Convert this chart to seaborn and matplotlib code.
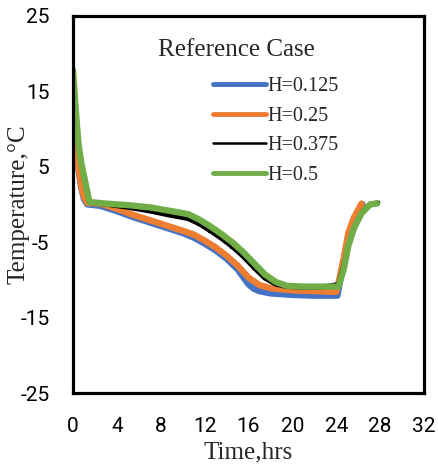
import numpy as np
import pandas as pd
import matplotlib
matplotlib.use("Agg")
import matplotlib.pyplot as plt
from matplotlib.lines import Line2D
import seaborn as sns

# Temperature histories (deg C) against time (hours) for each H value
t_0125 = [0, 0.25, 0.5, 0.75, 1.0, 1.3, 2.5, 4, 5.5, 7, 8.5, 10, 11, 12, 13, 14, 15, 15.5, 16, 16.5,
          17, 18, 20, 22, 24.1, 24.4, 24.8, 25.2, 25.7, 26.4]
T_0125 = [14.3, 9.6, 4.6, 2.2, 0.7, 0.0, -0.2, -0.9, -1.7, -2.4, -3.1, -3.8, -4.4, -5.2, -6.1, -7.2, -8.6,
          -9.6, -10.6, -11.2, -11.5, -11.8, -12.0, -12.1, -12.1, -9.8, -6.8, -3.8, -1.7, 0.0]

t_025 = [0, 0.25, 0.5, 0.75, 1.0, 1.3, 2.5, 4, 5.5, 7, 8.5, 10, 11, 12, 13, 14, 15, 16, 17, 18,
         20, 22, 24.0, 24.3, 24.7, 25.1, 25.6, 26.3]
T_025 = [14.8, 10.0, 5.0, 2.5, 1.0, 0.2, 0.1, -0.6, -1.4, -2.1, -2.8, -3.5, -4.0, -4.8, -5.7, -6.8, -8.1,
         -9.7, -10.7, -11.1, -11.4, -11.5, -11.6, -9.8, -7.0, -3.8, -1.8, 0.1]

t_0375 = [0, 0.25, 0.5, 0.75, 1.0, 1.25, 1.5, 3, 5, 7, 9, 10.5, 11.5, 12.5, 13.5, 14.5, 15.5, 16.5,
          17.5, 18.5, 19.5, 21, 22.5, 24.2, 24.7, 25.2, 25.7, 26.4, 27.2, 27.8]
T_0375 = [16.5, 12.0, 7.8, 5.3, 3.6, 1.9, 0.3, 0.0, -0.4, -0.9, -1.5, -1.9, -2.6, -3.5, -4.5, -5.6, -6.9,
          -8.4, -9.8, -10.6, -10.9, -11.0, -11.0, -10.6, -8.0, -5.0, -2.8, -0.9, 0.1, 0.2]

t_05 = [0, 0.25, 0.5, 0.75, 1.0, 1.25, 1.5, 3, 5, 7, 9, 10.5, 11.5, 12.5, 13.5, 14.5, 15.5, 16.5,
        17.5, 18.5, 19.5, 21, 22.5, 24.2, 24.7, 25.1, 25.6, 26.3, 27.1, 27.7]
T_05 = [17.8, 12.5, 8.0, 5.5, 3.8, 2.0, 0.3, 0.1, -0.1, -0.4, -0.9, -1.3, -2.0, -2.9, -3.9, -5.0, -6.3,
        -7.8, -9.3, -10.3, -10.8, -10.9, -10.9, -10.9, -8.5, -5.5, -3.2, -1.2, 0.0, 0.1]

labels = ["H=0.125", "H=0.25", "H=0.375", "H=0.5"]
colors = ["#4472C4", "#ED7D31", "#000000", "#70AD47"]
widths = [4.6, 4.6, 3.4, 4.6]
legend_widths = [3.5, 3.5, 1.8, 3.5]

x_ticks = [0, 4, 8, 12, 16, 20, 24, 28, 32]
y_ticks = [-25, -20, -15, -10, -5, 0, 5, 10, 15, 20, 25]
y_ticklabels = ["-25", "", "-15", "", "-5", "", "5", "", "15", "", "25"]

frames = []
for lab, t, T in zip(labels, [t_0125, t_025, t_0375, t_05], [T_0125, T_025, T_0375, T_05]):
    frames.append(pd.DataFrame({"time": t, "temp": T, "case": lab}))
df = pd.concat(frames, ignore_index=True)

sns.set_style("white")
plt.rcParams["font.family"] = ["Liberation Serif", "DejaVu Serif"]

fig = plt.figure(figsize=(4.38, 4.69), dpi=100)
ax = fig.add_axes([73 / 438, 1 - 393 / 469, (424 - 73) / 438, (393 - 15.7) / 469])

for lab, col, lw in zip(labels, colors, widths):
    sub = df[df["case"] == lab]
    sns.lineplot(data=sub, x="time", y="temp", color=col, linewidth=lw,
                 estimator=None, sort=False, ax=ax, legend=False,
                 marker="s", markersize=3.5, markeredgewidth=0)

ax.set_xlim(0, 32)
ax.set_ylim(-25, 25)
ax.set_xticks(x_ticks)
ax.set_yticks(y_ticks)
ax.set_yticklabels(y_ticklabels)
for lbl in ax.get_xticklabels() + ax.get_yticklabels():
    lbl.set_fontfamily("Roboto")
    lbl.set_fontsize(15)
    lbl.set_color("#111111")
ax.tick_params(axis="both", direction="in", length=6, width=2, colors="black")
ax.tick_params(axis="y", pad=17)
ax.tick_params(axis="x", pad=17)
for s in ax.spines.values():
    s.set_visible(True)
    s.set_linewidth(2.3)
    s.set_color("black")

ax.set_xlabel("Time,hrs", fontsize=18, labelpad=4)
ax.set_ylabel("Temperature,°C", fontsize=18)
ax.yaxis.set_label_coords((30 - 73) / 351, 0.5)

handles = [Line2D([0], [0], color=c, lw=w) for c, w in zip(colors, legend_widths)]
ax.legend(handles, labels, loc="upper left", bbox_to_anchor=(213 / 438, 1 - 77 / 469),
          bbox_transform=fig.transFigure, frameon=False, fontsize=14.5,
          handlelength=2.65, handletextpad=0.05, labelspacing=0.52, borderpad=0,
          borderaxespad=0)
fig.text(236 / 438, 1 - 50 / 469, "Reference Case", fontsize=18, ha="center", va="center")

fig.savefig("out.png", dpi=100)
